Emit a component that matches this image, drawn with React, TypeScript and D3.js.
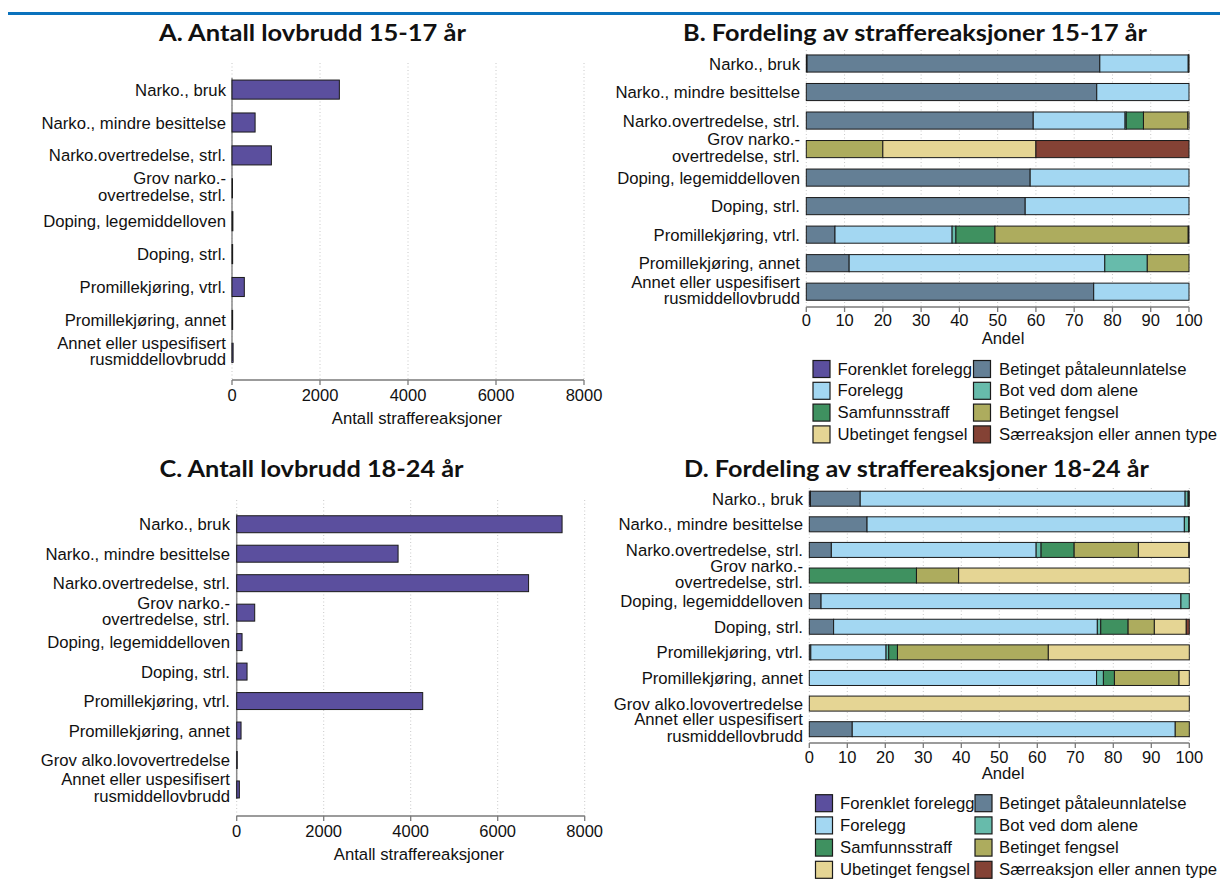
import React from "react";
import * as d3 from "d3";

// ---------- DATA ----------
const categoriesA = [
  "Narko., bruk",
  "Narko., mindre besittelse",
  "Narko.overtredelse, strl.",
  "Grov narko.-\novertredelse, strl.",
  "Doping, legemiddelloven",
  "Doping, strl.",
  "Promillekjøring, vtrl.",
  "Promillekjøring, annet",
  "Annet eller uspesifisert\nrusmiddellovbrudd",
];
const countsA = [2440, 525, 895, 8, 20, 15, 280, 15, 25];

const categoriesC = [
  "Narko., bruk",
  "Narko., mindre besittelse",
  "Narko.overtredelse, strl.",
  "Grov narko.-\novertredelse, strl.",
  "Doping, legemiddelloven",
  "Doping, strl.",
  "Promillekjøring, vtrl.",
  "Promillekjøring, annet",
  "Grov alko.lovovertredelse",
  "Annet eller uspesifisert\nrusmiddellovbrudd",
];
const countsC = [7480, 3710, 6710, 414, 123, 238, 4276, 100, 5, 61];

const reactionTypes = [
  "Forenklet forelegg",
  "Betinget påtaleunnlatelse",
  "Forelegg",
  "Bot ved dom alene",
  "Samfunnsstraff",
  "Betinget fengsel",
  "Ubetinget fengsel",
  "Særreaksjon eller annen type",
];
const reactionColors = [
  "#5b4f9e",
  "#647f95",
  "#a3d7f2",
  "#67bbab",
  "#3f9160",
  "#adac5e",
  "#e5d594",
  "#844235",
];

// shares per category, order as reactionTypes
const sharesB = [
  [0.2, 76.5, 23.1, 0, 0.1, 0.1, 0, 0],
  [0, 75.9, 24.1, 0, 0, 0, 0, 0],
  [0, 59.3, 24.0, 0.3, 4.5, 11.6, 0.3, 0],
  [0, 0, 0, 0, 0, 20, 40, 40],
  [0, 58.5, 41.5, 0, 0, 0, 0, 0],
  [0, 57.2, 42.8, 0, 0, 0, 0, 0],
  [0, 7.5, 30.6, 1.0, 10.2, 50.5, 0.2, 0],
  [0, 11.2, 66.8, 11.1, 0, 10.9, 0, 0],
  [0, 75.1, 24.9, 0, 0, 0, 0, 0],
];
const sharesD = [
  [0.3, 13.1, 85.5, 0.8, 0.1, 0.2, 0, 0],
  [0, 15.2, 83.5, 1.1, 0.2, 0, 0, 0],
  [0, 5.8, 53.9, 1.3, 8.7, 16.9, 13.3, 0.1],
  [0, 0, 0, 0, 28.2, 11.1, 60.7, 0],
  [0, 3.1, 94.7, 2.2, 0, 0, 0, 0],
  [0, 6.4, 69.4, 0.9, 7.2, 6.9, 8.4, 0.8],
  [0, 0.4, 19.8, 0.7, 2.3, 39.7, 37.1, 0],
  [0, 0, 75.6, 1.8, 2.9, 17.0, 2.7, 0],
  [0, 0, 0, 0, 0, 0, 100, 0],
  [0, 11.3, 85.0, 0, 0, 3.7, 0, 0],
];

const countTicks = [0, 2000, 4000, 6000, 8000];
const shareTicks = [0, 10, 20, 30, 40, 50, 60, 70, 80, 90, 100];

const FONT = "'Liberation Sans', Arial, Helvetica, sans-serif";
const TITLE_FONT = "Lato, 'DejaVu Sans', sans-serif";
const LABEL_SIZE = 16.7;
const TICK_SIZE = 16.5;

// ---------- COMPONENTS ----------
function CatLabel({ text, x, y }: { text: string; x: number; y: number }) {
  const lines = text.split("\n");
  if (lines.length === 1) {
    return (
      <text x={x} y={y + 6} textAnchor="end" fontFamily={FONT} fontSize={LABEL_SIZE} fill="#111">
        {text}
      </text>
    );
  }
  return (
    <text textAnchor="end" fontFamily={FONT} fontSize={LABEL_SIZE} fill="#111">
      <tspan x={x} y={y - 4}>{lines[0]}</tspan>
      <tspan x={x} y={y + 12.5}>{lines[1]}</tspan>
    </text>
  );
}

type AxisProps = {
  x: d3.ScaleLinear<number, number>;
  ticks: number[];
  axisY: number;
  tickLabelY: number;
  gridTop: number;
  title: string;
  titleX: number;
  titleY: number;
};

function XAxis({ x, ticks, axisY, tickLabelY, gridTop, title, titleX, titleY }: AxisProps) {
  const [r0, r1] = x.range();
  return (
    <g>
      {ticks.map((t) => (
        <line key={"g" + t} x1={x(t)} x2={x(t)} y1={gridTop} y2={axisY} stroke="#c8c8c8" strokeWidth={1} strokeDasharray="1,2.5" />
      ))}
      <line x1={r0} x2={r1} y1={axisY} y2={axisY} stroke="#7a7a7a" strokeWidth={1.6} />
      {ticks.map((t) => (
        <g key={"t" + t}>
          <line x1={x(t)} x2={x(t)} y1={axisY} y2={axisY + 5} stroke="#7a7a7a" strokeWidth={1.3} />
          <text x={x(t)} y={tickLabelY} textAnchor="middle" fontFamily={FONT} fontSize={TICK_SIZE} fill="#111">
            {t}
          </text>
        </g>
      ))}
      <text x={titleX} y={titleY} textAnchor="middle" fontFamily={FONT} fontSize={LABEL_SIZE} fill="#111">
        {title}
      </text>
    </g>
  );
}

type PanelLayout = {
  title: string;
  titleX: number;
  titleY: number;
  titleWidth: number;
  xRange: [number, number];
  yRange: [number, number];
  padding: number;
  axisY: number;
  tickLabelY: number;
  gridTop: number;
  labelRight: number;
  axisTitle: string;
  axisTitleX: number;
  axisTitleY: number;
};

function PanelTitle({ p }: { p: PanelLayout }) {
  return (
    <text
      x={p.titleX}
      y={p.titleY}
      textAnchor="middle"
      fontFamily={TITLE_FONT}
      fontWeight={700}
      fontSize={23}
      fill="#111"
      textLength={p.titleWidth}
      lengthAdjust="spacingAndGlyphs"
    >
      {p.title}
    </text>
  );
}

function CountPanel({ p, cats, values }: { p: PanelLayout; cats: string[]; values: number[] }) {
  const x = d3.scaleLinear().domain([0, 8000]).range(p.xRange);
  const y = d3.scaleBand<string>().domain(cats).range(p.yRange).paddingInner(p.padding).paddingOuter(p.padding / 2);
  const bw = y.bandwidth();
  const first = y(cats[0])!;
  const last = y(cats[cats.length - 1])! + bw;
  return (
    <g>
      <PanelTitle p={p} />
      <XAxis x={x} ticks={countTicks} axisY={p.axisY} tickLabelY={p.tickLabelY} gridTop={p.gridTop} title={p.axisTitle} titleX={p.axisTitleX} titleY={p.axisTitleY} />
      <line x1={x(0)} x2={x(0)} y1={first - 2} y2={last + 1} stroke="#8a8a8a" strokeWidth={1.5} />
      {cats.map((c, i) => (
        <g key={c}>
          <rect x={x(0)} y={y(c)!} width={Math.max(0.5, x(values[i]) - x(0))} height={bw} fill={reactionColors[0]} stroke="#1a1a1a" strokeWidth={1} />
          <CatLabel text={c} x={p.labelRight} y={y(c)! + bw / 2} />
        </g>
      ))}
    </g>
  );
}

function SharePanel({ p, cats, shares }: { p: PanelLayout; cats: string[]; shares: number[][] }) {
  const x = d3.scaleLinear().domain([0, 100]).range(p.xRange);
  const y = d3.scaleBand<string>().domain(cats).range(p.yRange).paddingInner(p.padding).paddingOuter(p.padding / 2);
  const bw = y.bandwidth();
  const stack = d3
    .stack<number[], number>()
    .keys(reactionTypes.map((_, i) => i))
    .value((d, k) => d[k]);
  const series = stack(shares);
  return (
    <g>
      <PanelTitle p={p} />
      <XAxis x={x} ticks={shareTicks} axisY={p.axisY} tickLabelY={p.tickLabelY} gridTop={p.gridTop} title={p.axisTitle} titleX={p.axisTitleX} titleY={p.axisTitleY} />
      {cats.map((c) => (
        <CatLabel key={"l" + c} text={c} x={p.labelRight} y={y(c)! + bw / 2} />
      ))}
      {series.map((s, k) => (
        <g key={"s" + k} fill={reactionColors[k]}>
          {s.map((seg, i) =>
            seg[1] - seg[0] > 0 ? (
              <rect
                key={i}
                x={x(seg[0])}
                y={y(cats[i])!}
                width={x(seg[1]) - x(seg[0])}
                height={bw}
                stroke="#1a1a1a"
                strokeWidth={1}
              />
            ) : null
          )}
        </g>
      ))}
    </g>
  );
}

function Legend({ boxX, textX, rowY, rowStep }: { boxX: number[]; textX: number[]; rowY: number; rowStep: number }) {
  return (
    <g>
      {reactionTypes.map((t, i) => {
        const col = i % 2;
        const row = Math.floor(i / 2);
        const cy = rowY + row * rowStep;
        return (
          <g key={t}>
            <rect x={boxX[col]} y={cy - 8} width={17} height={17} fill={reactionColors[i]} stroke="#1a1a1a" strokeWidth={1.2} />
            <text x={textX[col]} y={cy + 6} fontFamily={FONT} fontSize={LABEL_SIZE} fill="#111">
              {t}
            </text>
          </g>
        );
      })}
    </g>
  );
}

const layoutA: PanelLayout = {
  title: "A. Antall lovbrudd 15-17 år",
  titleX: 312.5,
  titleY: 41,
  titleWidth: 307,
  xRange: [232, 584],
  yRange: [73.15, 369.25],
  padding: 0.42,
  axisY: 380,
  tickLabelY: 401,
  gridTop: 63,
  labelRight: 226,
  axisTitle: "Antall straffereaksjoner",
  axisTitleX: 417,
  axisTitleY: 424,
};
const layoutC: PanelLayout = {
  title: "C. Antall lovbrudd 18-24 år",
  titleX: 311.5,
  titleY: 477,
  titleWidth: 304,
  xRange: [236.7, 584.7],
  yRange: [509.5, 804.2],
  padding: 0.424,
  axisY: 816,
  tickLabelY: 837,
  gridTop: 500,
  labelRight: 230,
  axisTitle: "Antall straffereaksjoner",
  axisTitleX: 419,
  axisTitleY: 860,
};
const layoutB: PanelLayout = {
  title: "B. Fordeling av straffereaksjoner 15-17 år",
  titleX: 915,
  titleY: 41,
  titleWidth: 464,
  xRange: [806.3, 1189],
  yRange: [49.25, 305.95],
  padding: 0.4,
  axisY: 307,
  tickLabelY: 326,
  gridTop: 50,
  labelRight: 800,
  axisTitle: "Andel",
  axisTitleX: 1003,
  axisTitleY: 344,
};
const layoutD: PanelLayout = {
  title: "D. Fordeling av straffereaksjoner 18-24 år",
  titleX: 916.5,
  titleY: 477,
  titleWidth: 465,
  xRange: [809.3, 1189.3],
  yRange: [485.9, 742],
  padding: 0.414,
  axisY: 743,
  tickLabelY: 762.5,
  gridTop: 488,
  labelRight: 803,
  axisTitle: "Andel",
  axisTitleX: 1003,
  axisTitleY: 779,
};

export default function App() {
  return (
    <svg
      width={1220}
      height={881}
      viewBox="0 0 1220 881"
      style={{ position: "absolute", left: 0, top: 0, background: "#fff" }}
    >
      <rect x={0} y={0} width={1220} height={881} fill="#fff" />
      <line x1={8} x2={1220} y1={13.5} y2={13.5} stroke="#0a72bd" strokeWidth={3} />
      <CountPanel p={layoutA} cats={categoriesA} values={countsA} />
      <SharePanel p={layoutB} cats={categoriesA} shares={sharesB} />
      <Legend boxX={[813, 973.5]} textX={[837.5, 999]} rowY={368.5} rowStep={21.8} />
      <CountPanel p={layoutC} cats={categoriesC} values={countsC} />
      <SharePanel p={layoutD} cats={categoriesC} shares={sharesD} />
      <Legend boxX={[815.5, 975]} textX={[840, 999]} rowY={802.7} rowStep={22.2} />
    </svg>
  );
}
